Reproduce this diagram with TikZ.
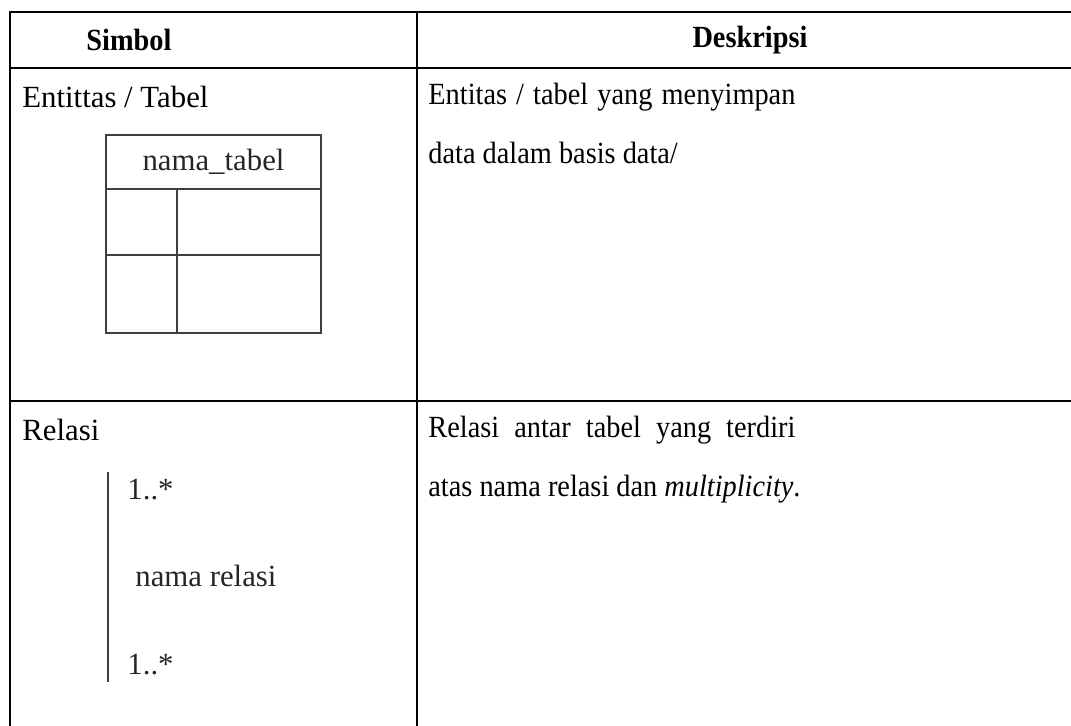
\documentclass[tikz,border=0pt]{standalone}
\usepackage{fontspec}
\setmainfont{Liberation Serif}
\newfontfamily\narrowfont[FakeStretch=0.92]{Liberation Serif}
\usepackage{tikz}
\usetikzlibrary{positioning}

\tikzset{
	txt/.style={inner sep=0pt,font=\fontsize{15.4}{18}\selectfont},
	desc/.style={inner sep=0pt,font=\fontsize{15.4}{18}\selectfont\narrowfont},
	head/.style={inner sep=0pt,font=\fontsize{15.4}{18}\selectfont\narrowfont\bfseries},
	grid/.style={line width=1.3pt},
	sym/.style={line width=1pt,draw=black!75},
	symtxt/.style={txt,text=black!85}
}

\begin{document}
\begin{tikzpicture}[x=0.5pt,y=-0.5pt]
	\useasboundingbox (0,0) rectangle (1071,725);
	\clip (0,0) rectangle (1071,725);
	% tabel
	\draw[grid] (10,740) -- (10,12) -- (1090,12);
	\draw[grid] (10,68) -- (1090,68);
	\draw[grid] (10,401) -- (1090,401);
	\draw[grid] (417,12) -- (417,740);
	\node[head] (simbol) at (129,40) {Simbol};
	\node[head] (deskripsi) at (750,40) {Deskripsi};
	% baris entitas
	\node[txt,anchor=west] (entitas) at (22,97) {Entittas / Tabel};
	\node[desc,anchor=west] (d1) at (428,97) {\makebox[183.5pt][s]{Entitas / tabel yang menyimpan}};
	\node[desc] (d2) [below =15pt of d1.south west,anchor=north west] {data dalam basis data/};
	\draw[sym] (106,135) rectangle (321,333);
	\draw[sym] (106,189) -- (321,189);
	\draw[sym] (106,255) -- (321,255);
	\draw[sym] (177,189) -- (177,333);
	\node[symtxt] (namatabel) at (213.5,162) {nama\_tabel};
	% baris relasi
	\node[txt,anchor=west] (relasi) at (22,430) {Relasi};
	\node[desc,anchor=west] (d3) at (428,430) {\makebox[183.5pt][s]{Relasi antar tabel yang terdiri}};
	\node[desc] (d4) [below =15pt of d3.south west,anchor=north west] {atas nama relasi dan \emph{multiplicity}.};
	\coordinate (atas) at (108,472);
	\coordinate (bawah) at (108,682);
	\draw[sym] (atas) -- (bawah);
	\node[symtxt,anchor=west] (m1) at (127,490) {1..*};
	\node[symtxt,anchor=west] (namarelasi) at (135,576) {nama relasi};
	\node[symtxt,anchor=west] (m2) at (127,665) {1..*};
\end{tikzpicture}
\end{document}
